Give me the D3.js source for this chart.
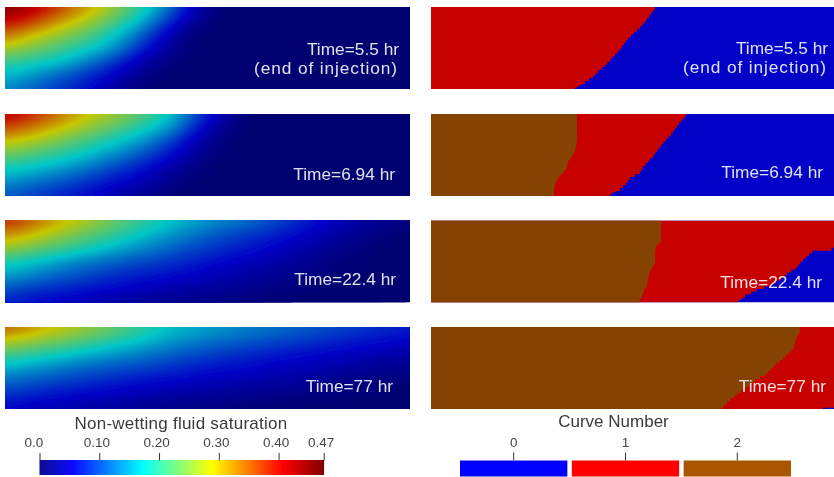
<!DOCTYPE html>
<html><head><meta charset="utf-8">
<script src="https://cdn.jsdelivr.net/npm/d3@7"></script>
<style>html,body{margin:0;padding:0;background:#fff;overflow:hidden}svg{display:block}text{font-family:"Liberation Sans",Arial,sans-serif}</style>
</head><body><svg id="c" width="834" height="477"></svg>
<script>
// ---- data ----
const times = ["Time=5.5 hr","Time=6.94 hr","Time=22.4 hr","Time=77 hr"];
const injectionNote = "(end of injection)";

// saturation sampled on a 16 x 7 lattice (distance along, depth down)
const sat55 = [
 .47,.43,.38,.32,.265,.205,.135,.052,0,0,0,0,0,0,0,0,
 .415,.38,.32,.275,.225,.165,.09,.025,0,0,0,0,0,0,0,0,
 .35,.295,.26,.225,.18,.12,.05,.003,0,0,0,0,0,0,0,0,
 .275,.245,.215,.185,.15,.08,.03,0,0,0,0,0,0,0,0,0,
 .205,.19,.172,.135,.09,.045,.012,0,0,0,0,0,0,0,0,0,
 .17,.145,.115,.085,.055,.02,0,0,0,0,0,0,0,0,0,0,
 .135,.11,.085,.065,.03,.003,0,0,0,0,0,0,0,0,0,0];
const sat694 = [
 .425,.39,.345,.30,.27,.23,.185,.11,.045,0,0,0,0,0,0,0,
 .37,.335,.295,.26,.225,.19,.155,.08,.02,0,0,0,0,0,0,0,
 .295,.27,.24,.21,.18,.15,.10,.045,.008,0,0,0,0,0,0,0,
 .235,.215,.195,.17,.14,.105,.07,.03,.003,0,0,0,0,0,0,0,
 .18,.17,.15,.125,.095,.07,.04,.012,0,0,0,0,0,0,0,0,
 .145,.125,.105,.085,.065,.045,.02,.003,0,0,0,0,0,0,0,0,
 .105,.09,.075,.06,.04,.022,.006,0,0,0,0,0,0,0,0,0];
const sat224 = [
 .395,.355,.31,.28,.24,.21,.18,.16,.14,.125,.105,.08,.055,.04,.025,.012,
 .33,.295,.26,.23,.205,.175,.15,.125,.105,.09,.075,.06,.04,.025,.01,.002,
 .265,.24,.215,.19,.165,.14,.12,.10,.085,.07,.055,.04,.025,.012,.003,0,
 .19,.172,.15,.13,.115,.10,.09,.075,.06,.05,.04,.025,.012,.004,0,0,
 .155,.135,.115,.10,.085,.075,.065,.055,.045,.035,.025,.015,.007,.002,0,0,
 .105,.09,.08,.07,.06,.05,.04,.035,.028,.02,.013,.008,.002,0,0,0,
 .075,.06,.05,.04,.032,.025,.02,.015,.012,.008,.004,.001,0,0,0,0];
const sat77 = [
 .365,.325,.295,.27,.235,.21,.175,.16,.15,.135,.125,.115,.105,.095,.085,.075,
 .285,.26,.24,.215,.195,.17,.15,.135,.12,.11,.10,.09,.08,.07,.065,.055,
 .215,.195,.18,.16,.145,.13,.115,.10,.09,.08,.07,.065,.055,.05,.04,.035,
 .16,.145,.13,.115,.105,.095,.085,.075,.065,.06,.05,.045,.04,.03,.025,.02,
 .12,.105,.095,.085,.075,.065,.06,.05,.045,.04,.035,.03,.02,.015,.01,.008,
 .085,.075,.065,.055,.05,.04,.035,.03,.028,.02,.015,.012,.008,.005,.002,0,
 .055,.045,.04,.032,.028,.02,.016,.012,.008,.005,.003,.001,0,0,0,0];
const saturations = [sat55, sat694, sat224, sat77];

// positions of the curve-number fronts at each depth
const frontDepths = [0,5.5,11,16.5,22,27.3,33,38.3,44,49,55,60,66,71,77,79.5,82];
const curve1Front55  = [226,222,218,214,209,203,197,193,189,184,179,174,167,162,154,148,144];
const curve1Front694 = [257,253,248,244,240,235,230,226,222,217,212,209,199,195,189,182,179];
const curve2Front694 = [146,146,146,146,146,146,145,144,141,137,136,132,127,124,123,123,123];
const curve1Front224 = [420,420,420,420,420,420,381,375,369,365,356,350,340,326,314,310,306];
const curve2Front224 = [230,230,230,230,230,225,224,224,224,221,218,217,216,213,211,209,208];
const curve1Front77  = [420,420,420,420,420,420,420,420,420,420,420,420,420,420,420,420,392];
const curve2Front77  = [369,369,366,364,363,358,352,345,340,334,324,318,310,303,296,293,291];
const fronts = [
 [curve1Front55, null],
 [curve1Front694, curve2Front694],
 [curve1Front224, curve2Front224],
 [curve1Front77, curve2Front77]];

const satMax = 0.4755;
const satTicks = [0,0.1,0.2,0.3,0.4,satMax];
const satTickLabels = ["0.0","0.10","0.20","0.30","0.40","0.47"];
const satStops = [0,.0556,.172,.23,.288,.406,satMax];
const jetColors = ["#00008f","#0000ff","#00ffff","#80ff80","#ffff00","#ff0000","#800000"];
const curveNumbers = [0,1,2];
const curveColors = ["#0000ff","#ff0000","#aa5500"];
const satTitle = "Non-wetting fluid saturation";
const curveTitle = "Curve Number";

// ---- layout ----
const panelTops = [7,114,220.5,327];
const panelH = 82, panelW = 405;
const leftX = 5, rightX = 431;
const lit = 0.78; // shading of the rendered surfaces
const shade = c => { const r = d3.rgb(c); return d3.rgb(r.r*lit, r.g*lit, r.b*lit).formatRgb(); };

const color = d3.scaleLinear().domain(satStops).range(jetColors).clamp(true);
const svg = d3.select("#c");
const defs = svg.append("defs");
const soft = defs.append("filter").attr("id","soft").attr("x","-2%").attr("y","-5%").attr("width","104%").attr("height","110%");
soft.append("feGaussianBlur").attr("stdDeviation",0.6);
const softT = defs.append("filter").attr("id","softT").attr("x","-5%").attr("y","-20%").attr("width","110%").attr("height","140%");
softT.append("feGaussianBlur").attr("stdDeviation",0.35);
defs.append("clipPath").attr("id","panelClip").append("rect").attr("width",panelW).attr("height",panelH);

const x = d3.scaleLinear().domain([0,405]).range([0,panelW]);
const y = d3.scaleLinear().domain([0,82]).range([0,panelH]);

function panel(px, py){
  const outer = svg.append("g").attr("transform",`translate(${px},${py})`).attr("filter","url(#soft)");
  return outer.append("g").attr("clip-path","url(#panelClip)");
}

// left column: saturation fields, resampled only to render smooth isobands
const nx = 16, ny = 7, fine = 6;
const fx = (nx-1)*fine+1, fy = (ny-1)*fine+1;
function resample(vals){
  const out = new Float64Array(fx*fy);
  for(let j=0;j<fy;j++) for(let i=0;i<fx;i++){
    const a=i/fine, b=j/fine, i0=Math.min(Math.floor(a),nx-2), j0=Math.min(Math.floor(b),ny-2), s=a-i0, t=b-j0;
    out[j*fx+i]=(1-s)*(1-t)*vals[j0*nx+i0]+s*(1-t)*vals[j0*nx+i0+1]+(1-s)*t*vals[(j0+1)*nx+i0]+s*t*vals[(j0+1)*nx+i0+1];
  }
  return d3.blur2({data:out,width:fx,height:fy},2,2).data;
}
const gx = d3.scaleLinear().domain([0,fx-1]).range([0,panelW]);
const gy = d3.scaleLinear().domain([0,fy-1]).range([0,panelH]);
const levels = d3.range(0,satMax,0.004);
const contours = d3.contours().size([fx,fy]).smooth(true).thresholds(levels);
const gridPath = d3.geoPath(d3.geoTransform({point(a,b){ this.stream.point(gx(a-.5), gy(b-.5)); }}));
saturations.forEach((vals,i)=>{
  const g = panel(leftX, panelTops[i]);
  g.append("rect").attr("width",panelW).attr("height",panelH).attr("fill",shade(color(0)));
  g.selectAll("path").data(contours(Array.from(resample(vals)))).join("path")
    .attr("d",gridPath)
    .attr("fill",d=>shade(color(d.value)))
    .attr("stroke",d=>shade(color(d.value)))
    .attr("stroke-width",0.3);
});

// right column: curve-number regions; the mesh-cell teeth are drawn at half a row
const frontArea = d3.area().curve(d3.curveStepAfter)
  .y(d=>y(d[0])).x0(x(0)).x1(d=>x(d[1]));
const teeth = pts => d3.pairs(pts).flatMap(([a,b])=>[a,[(a[0]+b[0])/2,(a[1]+b[1])/2]]).concat([pts[pts.length-1]]);
fronts.forEach((pair,i)=>{
  const g = panel(rightX, panelTops[i]);
  g.append("rect").attr("width",panelW).attr("height",panelH).attr("fill",shade(curveColors[0]));
  pair.forEach((front,k)=>{
    if(!front) return;
    g.append("path").attr("d",frontArea(teeth(d3.zip(frontDepths,front)))).attr("fill",shade(curveColors[k+1]));
  });
});

// time labels
const labelEndL = [399,395,396,393], labelEndR = [828,823,822,826];
const labelBase = [55,180,285,392], labelBaseR = [54,178,288,392];
const timeG = svg.append("g").attr("fill","#fff").attr("fill-opacity",0.88).attr("font-size",17.3).attr("text-anchor","end").attr("filter","url(#softT)");
times.forEach((t,i)=>{
  timeG.append("text").attr("x",labelEndL[i]).attr("y",labelBase[i]).text(t);
  timeG.append("text").attr("x",labelEndR[i]).attr("y",labelBaseR[i]).text(t);
});
timeG.append("text").attr("x",398).attr("y",74).attr("letter-spacing",0.9).text(injectionNote);
timeG.append("text").attr("x",827).attr("y",73).attr("letter-spacing",0.9).text(injectionNote);

// saturation colour bar
const lx = d3.scaleLinear().domain([0,satMax]).range([39.5,323.7]);
const barVals = d3.range(0,satMax,satMax/284);
const barG = svg.append("g").attr("filter","url(#softT)");
barG.selectAll("rect").data(barVals).join("rect")
  .attr("x",d=>lx(d)).attr("y",460).attr("width",1.4).attr("height",15).attr("fill",d=>color(d));
const axisL = svg.append("g").attr("transform","translate(0,460.5)").attr("filter","url(#softT)")
  .call(d3.axisTop(lx).tickValues(satTicks).tickFormat((d,i)=>satTickLabels[i]).tickSize(7.5).tickPadding(6));
axisL.select(".domain").remove();
axisL.selectAll("line").attr("stroke","#333");
axisL.selectAll("text").attr("fill","#444").attr("font-size",13.5).attr("dx",(d,i)=>i===0?-6:-3).attr("font-family",'"Liberation Sans",Arial,sans-serif');
svg.append("text").attr("x",181).attr("y",429).attr("text-anchor","middle").attr("font-size",17).attr("letter-spacing",0.25).attr("fill","#3a3a3a").attr("filter","url(#softT)").text(satTitle);

// curve-number legend
const band = d3.scaleBand().domain(curveNumbers).range([460,791]).paddingInner(0.04);
svg.append("g").attr("filter","url(#softT)").selectAll("rect").data(curveNumbers).join("rect")
  .attr("x",d=>band(d)).attr("y",460.5).attr("width",band.bandwidth()).attr("height",16).attr("fill",(d,i)=>curveColors[i]);
const axisR = svg.append("g").attr("transform","translate(0,460.5)").attr("filter","url(#softT)")
  .call(d3.axisTop(band).tickSize(8).tickPadding(6));
axisR.select(".domain").remove();
axisR.selectAll("line").attr("stroke","#333");
axisR.selectAll("text").attr("fill","#444").attr("font-size",13.5).attr("font-family",'"Liberation Sans",Arial,sans-serif');
svg.append("text").attr("x",613.5).attr("y",427).attr("text-anchor","middle").attr("font-size",17).attr("fill","#3a3a3a").attr("filter","url(#softT)").text(curveTitle);
</script></body></html>
